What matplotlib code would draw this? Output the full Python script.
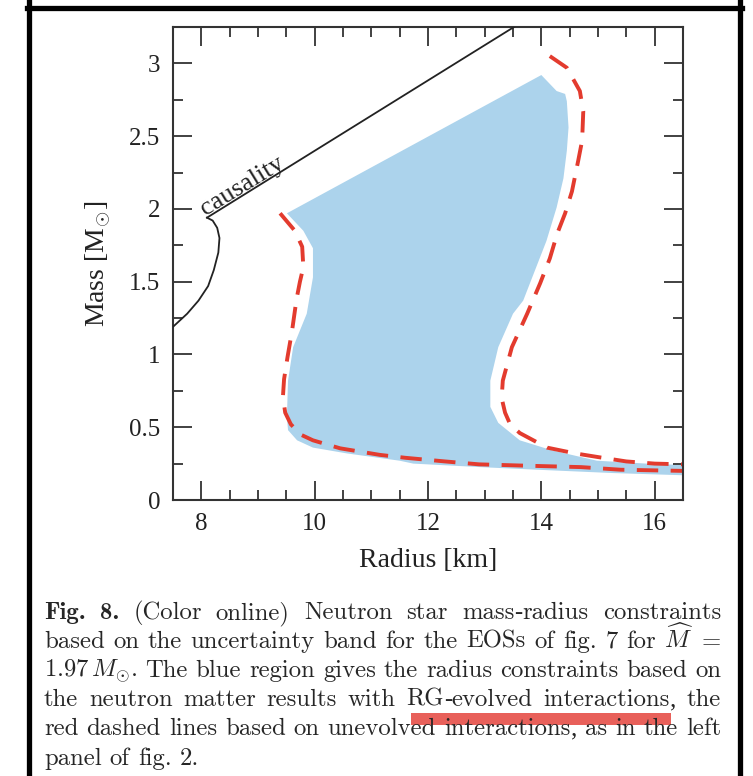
import re
import matplotlib
matplotlib.use('Agg')
import matplotlib.pyplot as plt
from matplotlib.ticker import MultipleLocator, FuncFormatter
from matplotlib.lines import Line2D
from matplotlib.patches import Rectangle

plt.rcParams['mathtext.fontset'] = 'cm'

W, H = 753, 776

# Causality limit and the black mass-radius branch below it
caus_r = [8.1, 13.6]
caus_m = [1.94, 3.27]
branch_r = [8.1, 8.2, 8.28, 8.32, 8.30, 8.22, 8.12, 7.95, 7.75, 7.5]
branch_m = [1.94, 1.92, 1.87, 1.80, 1.70, 1.58, 1.47, 1.37, 1.28, 1.19]

# Blue band: RG-evolved interactions (closed outline)
band_r = [9.51, 14.0, 14.27, 14.42, 14.45, 14.48, 14.45, 14.39, 14.27, 14.09,
          13.86, 13.68, 13.5, 13.24, 13.1, 13.1, 13.24, 13.62, 14.2, 14.98,
          15.86, 16.5, 16.5, 15.27, 14.1, 12.92, 11.74, 11.5, 10.57, 9.97,
          9.69, 9.53, 9.51, 9.53, 9.62, 9.86, 9.97, 9.97, 9.80]
band_m = [1.97, 2.92, 2.81, 2.79, 2.74, 2.56, 2.40, 2.21, 2.01, 1.78,
          1.55, 1.37, 1.28, 1.05, 0.82, 0.64, 0.53, 0.41, 0.34, 0.27,
          0.25, 0.24, 0.17, 0.185, 0.205, 0.226, 0.25, 0.27, 0.32, 0.36,
          0.41, 0.48, 0.57, 0.82, 1.05, 1.28, 1.53, 1.73, 1.85]

# Red dashed: unevolved interactions, lower and upper bounds
red_lo_r = [9.39, 9.65, 9.78, 9.80, 9.74, 9.68, 9.60, 9.52, 9.46, 9.44, 9.48,
            9.58, 9.75, 9.97, 10.45, 11.15, 11.6, 12.3, 12.9, 13.8, 14.7,
            15.4, 16.5]
red_lo_m = [1.97, 1.85, 1.74, 1.60, 1.50, 1.38, 1.16, 0.98, 0.83, 0.71, 0.60,
            0.52, 0.45, 0.41, 0.355, 0.31, 0.29, 0.265, 0.245, 0.235, 0.226,
            0.208, 0.20]
red_hi_r = [14.15, 14.45, 14.68, 14.74, 14.72, 14.65, 14.54, 14.42, 14.28,
            14.15, 13.98, 13.75, 13.48, 13.32, 13.30, 13.36, 13.45, 13.62,
            14.1, 14.6, 15.0, 15.5, 16.0, 16.5]
red_hi_m = [3.05, 2.97, 2.81, 2.67, 2.47, 2.33, 2.12, 1.97, 1.83, 1.66,
            1.49, 1.28, 1.05, 0.82, 0.70, 0.60, 0.52, 0.46, 0.36, 0.32,
            0.295, 0.265, 0.25, 0.245]

BLUE = '#acd3ec'
RED = '#e33b2e'
INK = '#222222'

fig = plt.figure(figsize=(W / 100, H / 100), dpi=100)
ax = fig.add_axes([173 / W, 1 - 500 / H, 510 / W, 473 / H])

ax.fill(band_r, band_m, color=BLUE, lw=0, zorder=1)
ax.plot(red_lo_r, red_lo_m, color=RED, lw=2.8, dashes=(5.5, 3.2),
        solid_capstyle='butt', zorder=2)
ax.plot(red_hi_r, red_hi_m, color=RED, lw=2.8, dashes=(5.5, 3.2),
        solid_capstyle='butt', zorder=2)
ax.plot(caus_r, caus_m, color=INK, lw=1.3, zorder=3)
ax.plot(branch_r, branch_m, color=INK, lw=1.3, zorder=3)
ax.text(8.72, 2.16, 'causality', rotation=31.5, ha='center', va='center',
        rotation_mode='anchor', fontsize=19, family='Liberation Serif',
        color=INK)

ax.set_xlim(7.5, 16.5)
ax.set_ylim(0, 3.25)
ax.xaxis.set_major_locator(MultipleLocator(2))
ax.xaxis.set_minor_locator(MultipleLocator(0.5))
ax.yaxis.set_major_locator(MultipleLocator(0.5))
ax.yaxis.set_minor_locator(MultipleLocator(0.25))
ax.yaxis.set_major_formatter(FuncFormatter(lambda v, p: '%g' % v))
ax.tick_params(which='both', direction='in', top=True, right=True,
               width=1.3, color='#333333', labelsize=18, pad=9,
               labelcolor=INK)
ax.tick_params(which='major', length=14)
ax.tick_params(which='minor', length=7)
for lab in ax.get_xticklabels() + ax.get_yticklabels():
    lab.set_family('Liberation Serif')
for sp in ax.spines.values():
    sp.set_linewidth(1.5)
    sp.set_color('#333333')

ax.set_xlabel('Radius [km]', fontsize=20, family='Liberation Serif',
              color=INK, labelpad=10)
ax.set_ylabel(r'Mass [M$_{\odot}$]', fontsize=20, family='Liberation Serif',
              color=INK, labelpad=12)

# page frame around figure and caption
for xs, ys in [([29, 29], [0, 776]), ([740, 740], [0, 776]), ([27, 742], [7.5, 7.5])]:
    fig.add_artist(Line2D([x / W for x in xs], [1 - y / H for y in ys],
                          color='black', lw=3.8, transform=fig.transFigure))

# justified caption
CAP_FS = 17.8
CAP_C = '#262626'
left_px, right_px = 44, 721
caption = [
    ([('Fig.', True), ('8.', True), ('(Color', False), ('online)', False),
      ('Neutron', False), ('star', False), ('mass-radius', False),
      ('constraints', False)], 619, True),
    ([(w, False) for w in 'based on the uncertainty band for the EOSs of fig. 7 for'.split()]
     + [(r'$\widehat{M}$', False), ('=', False)], 648, True),
    ([(r'$1.97\,M_{\odot}$.', False)]
     + [(w, False) for w in 'The blue region gives the radius constraints based on'.split()], 677, True),
    ([(w, False) for w in 'the neutron matter results with RG-evolved interactions, the'.split()], 706, True),
    ([(w, False) for w in 'red dashed lines based on unevolved interactions, as in the left'.split()], 735, True),
    ([(w, False) for w in 'panel of fig. 2.'.split()], 765, False),
]

renderer = fig.canvas.get_renderer()


def word_pieces(s, bold):
    # cmr10 has no comma/hyphen glyphs, so draw those with a serif fallback
    if s.startswith('$'):
        return [(s, 'cmr10')]
    main = 'cmb10' if bold else 'cmr10'
    return [(p, 'Liberation Serif' if p in (',', '-') else main)
            for p in re.split(r'([,\-])', s) if p]


for words, y_px, just in caption:
    groups = []
    for s, b in words:
        pieces = []
        for p, fam in word_pieces(s, b):
            t = fig.text(0, 1 - y_px / H, p, fontsize=CAP_FS, color=CAP_C,
                         family=fam, va='baseline', ha='left')
            pieces.append((t, t.get_window_extent(renderer).width))
        groups.append(pieces)
    widths = [sum(w for _, w in g) for g in groups]
    if just:
        gap = (right_px - left_px - sum(widths)) / (len(groups) - 1)
    else:
        gap = CAP_FS * 100 / 72 * 0.333
    x = left_px
    for g, gw in zip(groups, widths):
        xx = x
        for t, w in g:
            t.set_x(xx / W)
            xx += w
        x += gw + gap

# red marker stroke under "RG-evolved interactions"
fig.add_artist(Rectangle((411 / W, 1 - 725 / H), 260 / W, 12 / H,
                         color='#e8605a', lw=0, transform=fig.transFigure))

fig.savefig('out.png', dpi=100, facecolor='white')
